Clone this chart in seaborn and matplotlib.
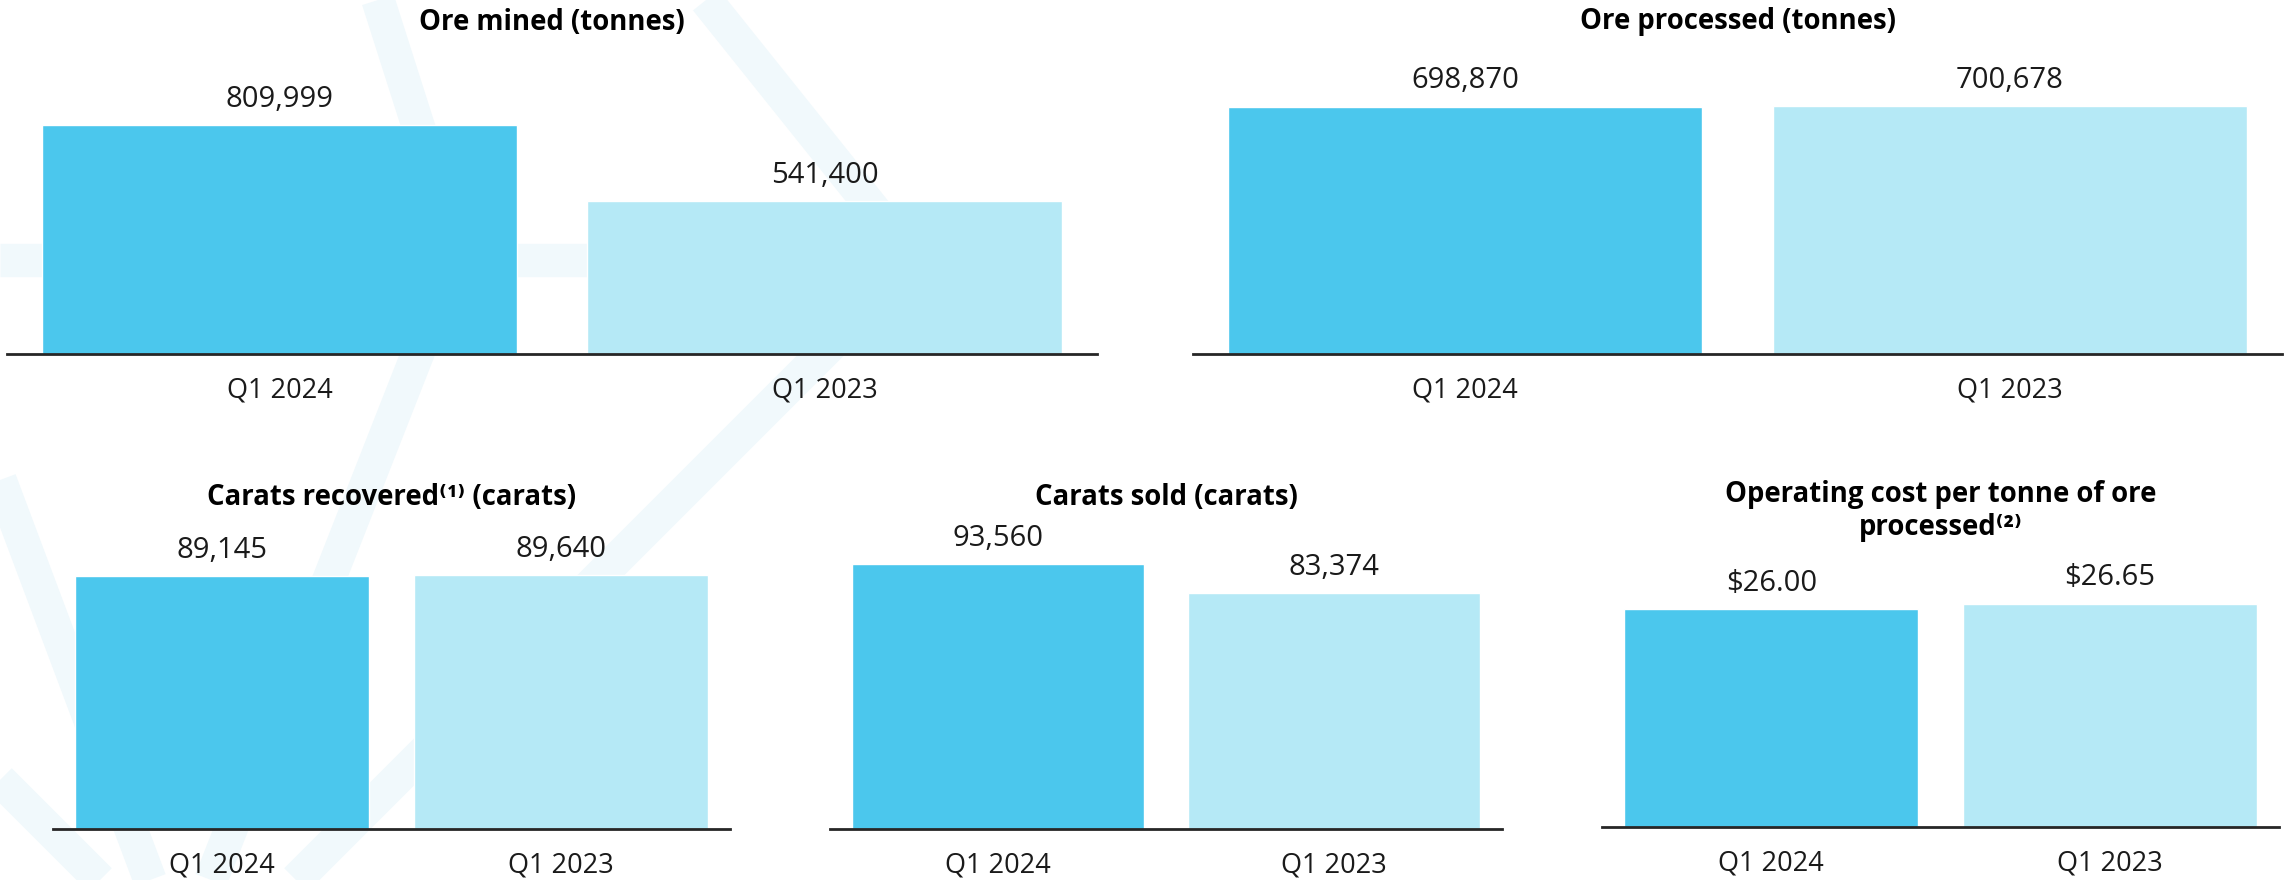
import matplotlib
matplotlib.use("Agg")
import matplotlib.pyplot as plt
from matplotlib.lines import Line2D
import seaborn as sns
import pandas as pd

# ---------------- data ----------------
periods = ["Q1 2024", "Q1 2023"]
ore_mined = [809999, 541400]
ore_processed = [698870, 700678]
carats_recovered = [89145, 89640]
carats_sold = [93560, 83374]
cost_per_tonne = [26.00, 26.65]

titles = [
    "Ore mined (tonnes)",
    "Ore processed (tonnes)",
    "Carats recovered\u207d\u00b9\u207e (carats)",
    "Carats sold (carats)",
    "Operating cost per tonne of ore\nprocessed\u207d\u00b2\u207e",
]
series = [ore_mined, ore_processed, carats_recovered, carats_sold, cost_per_tonne]
formats = ["{:,.0f}", "{:,.0f}", "{:,.0f}", "{:,.0f}", "${:.2f}"]

# ---------------- style / layout ----------------
sns.set_theme(style="white")
FONT = ["Open Sans", "DejaVu Sans"]
plt.rcParams["font.family"] = FONT

W, H, DPI = 2287, 880, 100
C_DARK = "#4BC7ED"
C_LIGHT = "#B5E9F6"
WM = "#f1f9fc"

left_px = [7, 1193, 53, 830, 1602]
right_px = [1097, 2282, 730, 1502, 2279]
base_px = [354, 354, 829, 829, 827]
top_px = [60, 60, 530, 530, 530]
title_y_px = [22, 22, 497, 497, 511]
headroom = [1.284, 1.185, 1.177, 1.128, 1.329]

fig = plt.figure(figsize=(W / DPI, H / DPI), dpi=DPI)
fig.patch.set_facecolor("white")

# faint background watermark strokes
strokes = [
    [(378, 0), (458, 251), (211, 880)],
    [(706, 0), (915, 261), (296, 880)],
    [(0, 260), (915, 260)],
    [(0, 480), (150, 880)],
    [(0, 780), (100, 880)],
]
for s in strokes:
    xs = [p[0] / W for p in s]
    ys = [1 - p[1] / H for p in s]
    fig.add_artist(Line2D(xs, ys, transform=fig.transFigure, lw=24, color=WM,
                          solid_capstyle="butt", solid_joinstyle="miter", zorder=-5))

for i in range(5):
    l, r, b, t = left_px[i], right_px[i], base_px[i], top_px[i]
    ax = fig.add_axes([l / W, 1 - b / H, (r - l) / W, (b - t) / H])
    ax.patch.set_alpha(0)
    df = pd.DataFrame({"period": periods, "value": series[i]})
    sns.barplot(data=df, x="period", y="value", hue="period",
                palette=[C_DARK, C_LIGHT], width=0.87, saturation=1,
                legend=False, ax=ax)
    ax.set_xlim(-0.5, 1.5)
    ax.set_ylim(0, max(series[i]) * headroom[i])
    for cont, v in zip(ax.containers, series[i]):
        ax.bar_label(cont, labels=[formats[i].format(v)], padding=8,
                     fontsize=21, color="#1a1a1a", family=FONT)
    ax.set_xlabel("")
    ax.set_ylabel("")
    ax.set_yticks([])
    ax.tick_params(axis="x", length=0, pad=16.5, labelsize=19.5, labelcolor="#1a1a1a")
    for sp in ["left", "right", "top"]:
        ax.spines[sp].set_visible(False)
    ax.spines["bottom"].set_color("#262626")
    ax.spines["bottom"].set_linewidth(2.0)
    ax.spines["bottom"].set_zorder(5)
    fig.text((l + r) / 2 / W, 1 - title_y_px[i] / H, titles[i], ha="center", va="center",
             fontsize=19.8, fontweight="bold", color="black", family=FONT,
             linespacing=1.2)

fig.savefig("out.png", dpi=DPI, facecolor="white")
